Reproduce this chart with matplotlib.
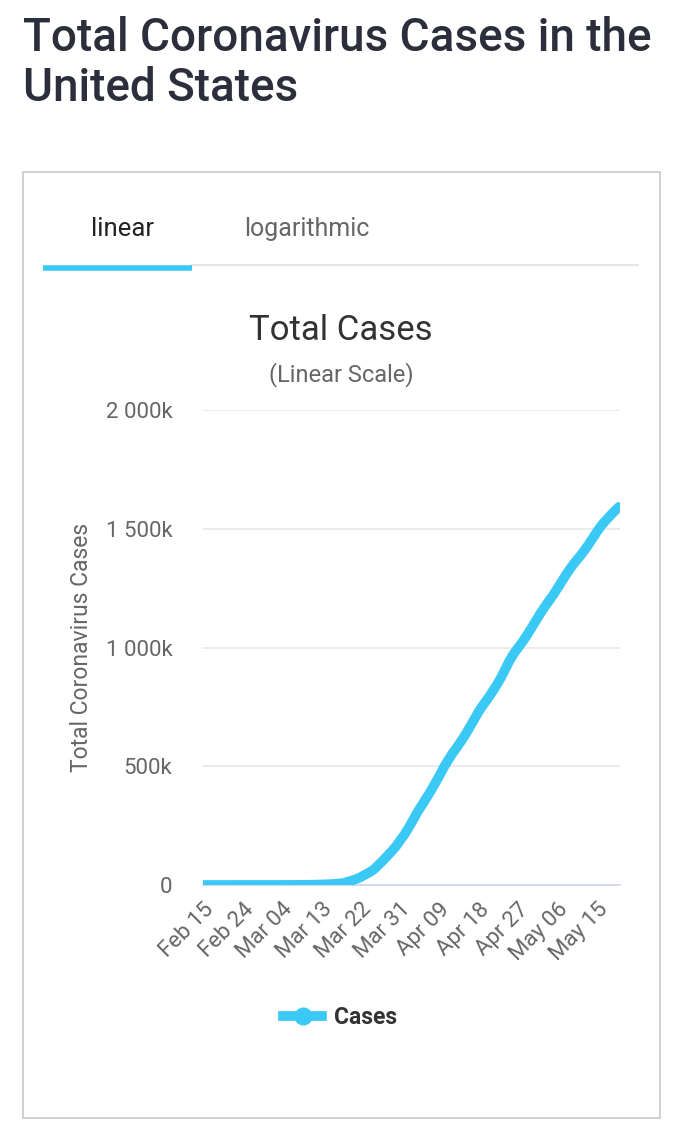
import matplotlib
matplotlib.use("Agg")
import matplotlib.pyplot as plt
import matplotlib.dates as mdates
from matplotlib.lines import Line2D
from matplotlib.patches import Rectangle
import pandas as pd

plt.rcParams['font.family'] = ['Roboto', 'DejaVu Sans']

# daily cumulative cases, Feb 15 .. May 20 2020
dates = pd.date_range("2020-02-15", "2020-05-20", freq="D")
feb = [15, 15, 15, 15, 15, 15, 15, 35, 35, 35, 53, 57, 60, 60, 68]
mar = [74, 98, 118, 149, 217, 262, 402, 518, 583, 959, 1281, 1663, 2179, 2727,
       3499, 4632, 6421, 7786, 13680, 19101, 25493, 33276, 43847, 53740, 65778,
       83836, 101657, 121478, 140886, 161807, 188172]
apr = [213372, 243453, 275586, 308850, 337072, 366667, 396223, 429052, 461437,
       496535, 526396, 555313, 580619, 607670, 636350, 667801, 699706, 732197,
       759086, 784326, 811865, 840351, 872000, 908000, 945000, 975000, 1000000,
       1025000, 1052000, 1082000]
may = [1112000, 1142000, 1170000, 1196000, 1222000, 1250000, 1280000, 1309000,
       1336000, 1360000, 1382000, 1406000, 1432000, 1460000, 1488000, 1514000,
       1535000, 1555000, 1574000, 1592000]
cases = feb + mar + apr + may

y_ticks = [0, 500000, 1000000, 1500000, 2000000]
y_labels = ["0", "500k", "1 000k", "1 500k", "2 000k"]
x_ticks = pd.date_range("2020-02-15", "2020-05-15", freq="9D")

W, H = 690, 1122
fig = plt.figure(figsize=(W / 100, H / 100), dpi=100)


def fx(x):
    return x / W


def fy(y):
    return 1 - y / H


blue = '#3ac8f4'

# page title
fig.text(fx(23), fy(38), "Total Coronavirus Cases in the", fontsize=33,
         fontweight='medium', color='#2d2e3b', va='center', ha='left')
fig.text(fx(23), fy(88), "United States", fontsize=33,
         fontweight='medium', color='#2d2e3b', va='center', ha='left')

# card border
fig.add_artist(Rectangle((fx(23), fy(1118)), fx(660) - fx(23), fy(172) - fy(1118),
                         transform=fig.transFigure, fill=False,
                         edgecolor='#c8c8c8', lw=1.2))

# tabs
fig.text(fx(123), fy(229), "linear", fontsize=18.5, color='#222222',
         ha='center', va='center')
fig.text(fx(307), fy(229), "logarithmic", fontsize=18, color='#666666',
         ha='center', va='center')
fig.add_artist(Line2D([fx(192), fx(638)], [fy(265), fy(265)],
                      transform=fig.transFigure, color='#e6e6e6', lw=1.5))
fig.add_artist(Line2D([fx(43), fx(192)], [fy(268), fy(268)],
                      transform=fig.transFigure, color=blue, lw=4,
                      solid_capstyle='butt'))

# chart titles
fig.text(fx(341), fy(330), "Total Cases", fontsize=25, color='#333333',
         ha='center', va='center')
fig.text(fx(341), fy(375), "(Linear Scale)", fontsize=17, color='#666666',
         ha='center', va='center')

# plot area
ax = fig.add_axes([fx(203), fy(885), fx(620) - fx(203), fy(410) - fy(885)])
ax.plot(dates, cases, color=blue, lw=7, solid_capstyle='round',
        solid_joinstyle='round', zorder=3)

ax.set_ylim(0, 2000000)
ax.set_xlim(dates[0] - pd.Timedelta(hours=2), dates[-1] + pd.Timedelta(hours=6))
ax.set_yticks(y_ticks)
ax.set_yticklabels(y_labels)
ax.set_xticks(x_ticks)
ax.xaxis.set_major_formatter(mdates.DateFormatter('%b %d'))

ax.grid(axis='y', color='#e6e6e6', lw=1.2)
ax.set_axisbelow(True)
for s in ['top', 'right', 'left']:
    ax.spines[s].set_visible(False)
ax.spines['bottom'].set_color('#ccd6eb')
ax.spines['bottom'].set_linewidth(1.2)
ax.tick_params(axis='y', length=0, pad=22, labelsize=16, labelcolor='#666666')
ax.tick_params(axis='x', length=0, pad=10, labelsize=16, labelcolor='#666666')
for lab in ax.get_xticklabels():
    lab.set_rotation(45)
    lab.set_ha('right')
    lab.set_va('top')
    lab.set_rotation_mode('anchor')

fig.text(fx(82), fy(647), "Total Coronavirus Cases", rotation=90, fontsize=16.5,
         color='#666666', ha='center', va='center')

# legend
handle = Line2D([], [], color=blue, lw=7, marker='o', markersize=12)
fig.legend([handle], ["Cases"], loc='center', bbox_to_anchor=(fx(340), fy(1018)),
           frameon=False, handlelength=1.7, handletextpad=0.5,
           prop={'size': 16.5, 'weight': 'bold'}, labelcolor='#333333')

fig.savefig("out.png", dpi=100)
